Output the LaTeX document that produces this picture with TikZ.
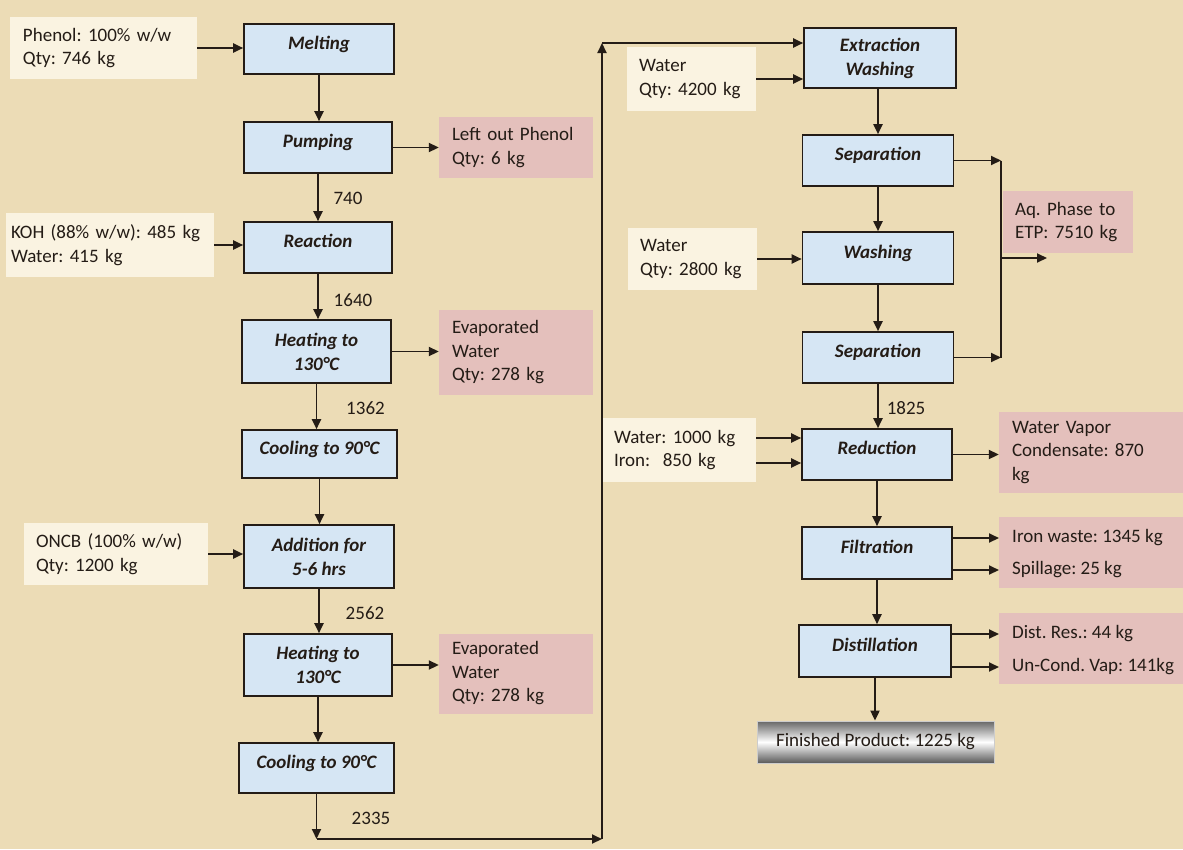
\documentclass[tikz,border=0pt]{standalone}
\usepackage{fontspec}
\setmainfont{Carlito}
\usetikzlibrary{arrows.meta}
\definecolor{bg}{RGB}{236,220,182}
\definecolor{procfill}{RGB}{214,230,244}
\definecolor{infill}{RGB}{250,243,225}
\definecolor{outfill}{RGB}{228,192,188}
\definecolor{ln}{RGB}{36,28,22}
\begin{document}
\frenchspacing
\begin{tikzpicture}[x=1pt,y=-1pt,
  font=\fontsize{19}{23.5}\selectfont,
  proc/.style={draw=ln, line width=1.6pt, fill=procfill, text=ln,
    font=\fontsize{19}{24}\selectfont\bfseries\itshape, align=center, inner sep=2pt},
  one/.style={text height=11pt, text depth=11pt},
  inbox/.style={fill=infill, inner ysep=0pt, align=left, text=ln},
  outbox/.style={fill=outfill, inner ysep=0pt, align=left, text=ln},
  lbl/.style={anchor=west, inner ysep=0pt, text=ln},
  num/.style={inner sep=0pt, text=ln},
  flow/.style={line width=1.9pt, draw=ln, -{Triangle[length=10pt,width=9pt]}},
  plain/.style={line width=1.9pt, draw=ln}
]
\useasboundingbox (0,0) rectangle (1183,849);
\fill[bg] (0,0) rectangle (1183,849);

% ---------------- left column: process steps
\node[proc, one, minimum width=150, minimum height=50] (melt) at (319,49) {Melting};
\node[proc, one, minimum width=148, minimum height=51] (pump) at (318,147.5) {Pumping};
\node[proc, one, minimum width=148, minimum height=51] (react) at (318,247.5) {Reaction};
\node[proc, minimum width=149, minimum height=63] (heat1) at (316.5,351.5) {Heating to\\130°C};
\node[proc, one, minimum width=155, minimum height=48] (cool1) at (319.5,454) {Cooling to 90°C};
\node[proc, minimum width=150, minimum height=63] (add) at (319,556.5) {Addition for\\5-6 hrs};
\node[proc, minimum width=148, minimum height=62] (heat2) at (318,665) {Heating to\\130°C};
\node[proc, one, minimum width=155, minimum height=50] (cool2) at (316.5,768) {Cooling to 90°C};

% inputs (left)
\node[inbox, minimum height=62, text width=161, inner xsep=13] (phenol) at (103.5,48) {Phenol: 100\% w/w\\Qty: 746 kg};
\node[inbox, minimum height=64, text width=198, inner xsep=5] (koh) at (110,245) {KOH (88\% w/w): 485 kg\\Water: 415 kg};
\node[inbox, minimum height=62, text width=160, inner xsep=12] (oncb) at (116,554) {ONCB (100\% w/w)\\Qty: 1200 kg};

% outputs (left)
\node[outbox, minimum height=61, text width=128, inner xsep=13] (lout) at (516,147.5) {Left out Phenol\\Qty: 6 kg};
\node[outbox, minimum height=85, text width=128, inner xsep=13] (evap1) at (516,352.5) {Evaporated\\Water\\Qty: 278 kg};
\node[outbox, minimum height=80, text width=128, inner xsep=13] (evap2) at (516,673.5) {Evaporated\\Water\\Qty: 278 kg};

% numbers (left)
\node[num] (n740) at (348,198) {740};
\node[num] (n1640) at (353,300) {1640};
\node[num] (n1362) at (365.5,408) {1362};
\node[num] (n2562) at (365,613) {2562};
\node[num] (n2335) at (371,818) {2335};

% ---------------- right column: process steps
\node[proc, minimum width=152, minimum height=60] (ext) at (880,58) {Extraction\\Washing};
\node[proc, one, minimum width=151, minimum height=51] (sep1) at (878,160.5) {Separation};
\node[proc, one, minimum width=151, minimum height=52] (wash) at (878,258) {Washing};
\node[proc, one, minimum width=151, minimum height=51] (sep2) at (878,357.5) {Separation};
\node[proc, one, minimum width=150, minimum height=51] (red) at (877,454.5) {Reduction};
\node[proc, one, minimum width=150, minimum height=52] (filt) at (877,553) {Filtration};
\node[proc, one, minimum width=152, minimum height=52] (dist) at (875,651) {Distillation};
\node[draw=white!80!black, line width=0.8pt, minimum width=237, minimum height=42,
  top color=black!60, bottom color=black!65, middle color=white, text=ln,
  inner sep=2pt] (fin) at (875.5,742) {Finished Product: 1225 kg};

% inputs (right)
\node[inbox, minimum height=64, text width=105, inner xsep=12] (w1) at (691.5,79) {Water\\Qty: 4200 kg};
\node[inbox, minimum height=62, text width=105, inner xsep=12] (w2) at (692.5,259) {Water\\Qty: 2800 kg};
\node[inbox, minimum height=64, text width=130, inner xsep=12, font=\fontsize{19}{23}\selectfont] (w3) at (679,450) {Water: 1000 kg\\Iron:~~850 kg};

% outputs (right)
\node[outbox, minimum height=62, text width=106, inner xsep=12] (aq) at (1068,222) {Aq. Phase to\\ETP: 7510 kg};
\node[outbox, minimum height=81, text width=160, inner xsep=13] (vap) at (1092,452.5) {Water Vapor\\Condensate: 870\\kg};
\node[outbox, minimum width=186, minimum height=71] (ironbox) at (1092,552.5) {};
\node[lbl, inner xsep=13] (ironw) at (999,538) {Iron waste: 1345 kg};
\node[lbl, inner xsep=13] (spill) at (999,570) {Spillage: 25 kg};
\node[outbox, minimum width=186, minimum height=71] (resbox) at (1092,648.5) {};
\node[lbl, inner xsep=13] (dres) at (999,634) {Dist. Res.: 44 kg};
\node[lbl, inner xsep=13] (ucv) at (999,667) {Un-Cond. Vap: 141kg};

\node[num] (n1825) at (906,408) {1825};

% ---------------- connectors left
\draw[flow] (phenol.east) -- (phenol.east -| melt.west);
\draw[flow] (koh.east) -- (koh.east -| react.west);
\draw[flow] (oncb.east) -- (oncb.east -| add.west);
\draw[flow] (melt.south) -- (melt.south |- pump.north);
\draw[flow] (pump.south) -- (pump.south |- react.north);
\draw[flow] (react.south) -- (react.south |- heat1.north);
\draw[flow] (heat1.south) -- (heat1.south |- cool1.north);
\draw[flow] (cool1.south) -- (cool1.south |- add.north);
\draw[flow] (add.south) -- (add.south |- heat2.north);
\draw[flow] (heat2.south) -- (heat2.south |- cool2.north);
\draw[flow] (pump.east) -- (pump.east -| lout.west);
\draw[flow] (heat1.east) -- (heat1.east -| evap1.west);
\draw[flow] (heat2.east) -- (heat2.east -| evap2.west);

% transfer to right column
\coordinate (b1) at (316.5,839);
\coordinate (b2) at (602,839);
\coordinate (b3) at (602,43);
\draw[flow] (cool2.south) -- (b1);
\draw[flow] (b1) -- (b2);
\draw[flow] (b2) -- (b3);
\draw[flow] (b3) -- (b3 -| ext.west);

% ---------------- connectors right
\draw[flow] (w1.east) -- (w1.east -| ext.west);
\draw[flow] (w2.east) -- (w2.east -| wash.west);
\draw[flow] (w3.east |- 0,438) -- (red.west |- 0,438);
\draw[flow] (w3.east |- 0,463) -- (red.west |- 0,463);
\draw[flow] (sep1.north |- ext.south) -- (sep1.north);
\draw[flow] (sep1.south) -- (sep1.south |- wash.north);
\draw[flow] (wash.south) -- (wash.south |- sep2.north);
\draw[flow] (sep2.south) -- (sep2.south |- red.north);
\draw[flow] (red.south) -- (red.south |- filt.north);
\draw[flow] (filt.south) -- (filt.south |- dist.north);
\draw[flow] (dist.south) -- (dist.south |- fin.north);

\coordinate (jx) at (1001,258);
\coordinate (aqend) at (1047,258);
\draw[flow] (sep1.east) -- (sep1.east -| jx);
\draw[flow] (sep2.east) -- (sep2.east -| jx);
\draw[plain] (sep1.east -| jx) -- (sep2.east -| jx);
\draw[flow] (jx) -- (aqend);

\draw[flow] (red.east) -- (red.east -| vap.west);
\draw[flow] (filt.east |- ironw) -- (ironw.west);
\draw[flow] (filt.east |- spill) -- (spill.west);
\draw[flow] (dist.east |- dres) -- (dres.west);
\draw[flow] (dist.east |- ucv) -- (ucv.west);
\end{tikzpicture}
\end{document}
